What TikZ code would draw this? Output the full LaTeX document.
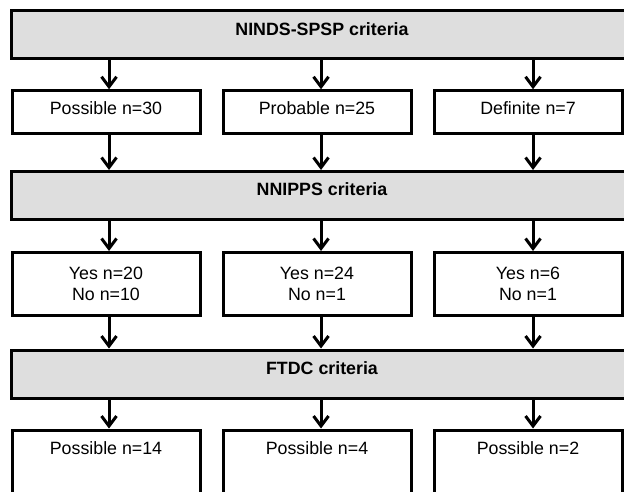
\documentclass[tikz,border=0pt]{standalone}
\usepackage{fontspec}
\setmainfont{Liberation Sans}
\usetikzlibrary{arrows.meta}
\definecolor{critgray}{RGB}{222,222,222}
\tikzset{
    crit/.style={draw, line width=3pt, fill=critgray, minimum width=622pt, minimum height=48pt,
        font=\fontsize{17.8}{21}\selectfont\bfseries, text height=12pt, text depth=11pt},
    grp/.style={draw, line width=3pt, fill=white, minimum width=188pt,
        font=\fontsize{17.8}{21}\selectfont, align=center},
    arr/.style={line width=3pt, -{Straight Barb[length=10pt, width=15pt]}}
}

\begin{document}
\begin{tikzpicture}[x=1pt, y=-1pt]
            \useasboundingbox (0,0) rectangle (624,492);
            \clip (0,0) rectangle (624,492);
            % criteria bars
            \node[crit] (nind) at (322,35) {NINDS-SPSP criteria};
            \node[crit] (nnip) at (322,195.5) {NNIPPS criteria};
            \node[crit] (ftdc) at (322,374) {FTDC criteria};
            % first row
            \node[grp, minimum height=42.5pt, text height=12pt, text depth=6pt] (poss) at (106,112) {Possible n=30};
            \node[grp, minimum height=42.5pt, text height=12pt, text depth=6pt] (prob) at (317,112) {Probable n=25};
            \node[grp, minimum height=42.5pt, text height=12pt, text depth=6pt] (defi) at (528,112) {Definite n=7};
            % second row
            \node[grp, minimum height=63pt] (yesA) at (106,284) {Yes n=20\\No n=10};
            \node[grp, minimum height=63pt] (yesB) at (317,284) {Yes n=24\\No n=1};
            \node[grp, minimum height=63pt] (yesC) at (528,284) {Yes n=6\\No n=1};
            % third row, runs off the bottom
            \node[grp, text height=12pt, text depth=70pt, inner ysep=12pt] (ftdA) at (106,483) {Possible n=14};
            \node[grp, text height=12pt, text depth=70pt, inner ysep=12pt] (ftdB) at (317,483) {Possible n=4};
            \node[grp, text height=12pt, text depth=70pt, inner ysep=12pt] (ftdC) at (528,483) {Possible n=2};
            % arrows
            \draw[arr] ([xshift=3pt]poss.north |- nind.south) -- ([xshift=3pt]poss.north);
            \draw[arr] ([xshift=4pt]prob.north |- nind.south) -- ([xshift=4pt]prob.north);
            \draw[arr] ([xshift=5pt]defi.north |- nind.south) -- ([xshift=5pt]defi.north);
            \draw[arr] ([xshift=3pt]poss.south) -- ([xshift=3pt]poss.south |- nnip.north);
            \draw[arr] ([xshift=4pt]prob.south) -- ([xshift=4pt]prob.south |- nnip.north);
            \draw[arr] ([xshift=5pt]defi.south) -- ([xshift=5pt]defi.south |- nnip.north);
            \draw[arr] ([xshift=3pt]yesA.north |- nnip.south) -- ([xshift=3pt]yesA.north);
            \draw[arr] ([xshift=4pt]yesB.north |- nnip.south) -- ([xshift=4pt]yesB.north);
            \draw[arr] ([xshift=5pt]yesC.north |- nnip.south) -- ([xshift=5pt]yesC.north);
            \draw[arr] ([xshift=3pt]yesA.south) -- ([xshift=3pt]yesA.south |- ftdc.north);
            \draw[arr] ([xshift=4pt]yesB.south) -- ([xshift=4pt]yesB.south |- ftdc.north);
            \draw[arr] ([xshift=5pt]yesC.south) -- ([xshift=5pt]yesC.south |- ftdc.north);
            \draw[arr] ([xshift=3pt]ftdA.north |- ftdc.south) -- ([xshift=3pt]ftdA.north);
            \draw[arr] ([xshift=4pt]ftdB.north |- ftdc.south) -- ([xshift=4pt]ftdB.north);
            \draw[arr] ([xshift=5pt]ftdC.north |- ftdc.south) -- ([xshift=5pt]ftdC.north);
        \end{tikzpicture}
\end{document}
